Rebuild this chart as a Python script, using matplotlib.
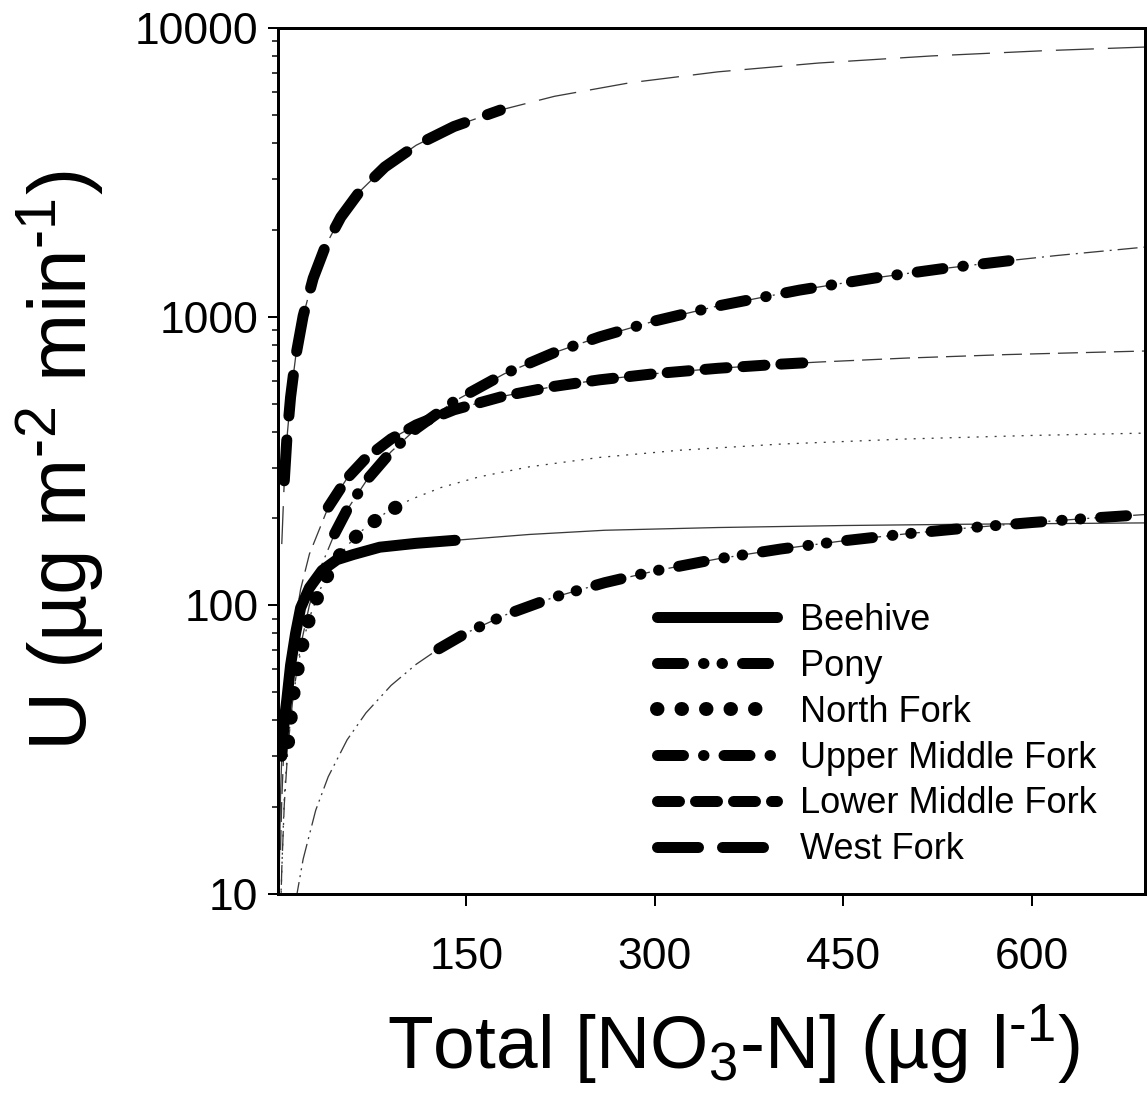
import matplotlib
matplotlib.use("Agg")
import matplotlib.pyplot as plt
from matplotlib.lines import Line2D
import numpy as np

plt.rcParams['font.family'] = ['Liberation Sans', 'DejaVu Sans']
plt.rcParams['mathtext.fontset'] = 'custom'
plt.rcParams['mathtext.rm'] = 'Liberation Sans'
plt.rcParams['mathtext.it'] = 'Liberation Sans'
plt.rcParams['lines.scale_dashes'] = False

# ---- data (C in ug/l, U in ug m-2 min-1) ----
names = ["Beehive", "Pony", "North Fork", "Upper Middle Fork", "Lower Middle Fork", "West Fork"]

beehive_C = [1, 2, 3, 5, 7, 10, 14, 18, 25, 35, 47, 60, 81, 110, 141, 200, 260, 350, 450, 550, 690]
beehive_U = [12, 22, 30, 40, 47, 62, 80, 98, 115, 132, 144, 150, 159, 164, 168, 176, 182, 186, 189, 191, 193]
beehive_obs = [3, 141]

pony_C = [14, 20, 30, 40, 55, 70, 90, 110, 128, 150, 180, 220, 260, 300, 350, 400, 450, 500, 550, 600, 650, 690]
pony_U = [9.4, 13.2, 19.5, 25.5, 34.2, 42.4, 52.8, 62.5, 70.7, 80.3, 92.3, 106.8, 119.8, 131.6, 144.9,
          156.7, 167.3, 176.9, 185.6, 193.6, 200.9, 206.3]
pony_obs = [128, 690]

nf_C = [2, 5, 8, 12, 18, 25, 35, 45, 55, 67, 85, 105, 130, 160, 200, 256, 320, 400, 500, 600, 690]
nf_U = [8.9, 21.6, 33.6, 48.6, 69.2, 90.7, 117.5, 140.7, 160.8, 181.8, 208.1, 232.0, 256.1, 278.6,
        301.9, 325.4, 344.7, 361.9, 376.9, 387.7, 395.0]
nf_obs = [8, 105]

umf_C = [2, 3, 5, 8, 12, 18, 25, 35, 45, 55, 71, 90, 110, 140, 180, 220, 256, 300, 350, 415, 480, 530, 588, 620, 690]
umf_U = [8.2, 12.2, 20.4, 32.5, 48.5, 72.4, 100.1, 138.8, 176.8, 214.3, 272.9, 340.5, 409.4, 508.5,
         633.6, 751.2, 851.2, 966.4, 1089, 1236, 1372, 1469, 1574, 1629, 1742]
umf_obs = [45, 588]

lmf_C = [2, 3, 5, 8, 12, 18, 25, 40, 55, 70, 90, 110, 140, 180, 220, 256, 300, 350, 400, 430, 500, 580, 690]
lmf_U = [14.2, 21.2, 34.8, 54.4, 79.1, 113.7, 150.5, 218.8, 275.6, 323.7, 377.2, 421.7, 475.7, 531.1,
         573.6, 604.3, 634.7, 662.4, 684.7, 696.2, 718.7, 739.0, 760.4]
lmf_obs = [40, 430]

wf_C = [3, 5, 7, 10, 14, 20, 28, 38, 50, 65, 85, 110, 140, 177, 220, 280, 350, 430, 520, 610, 690]
wf_U = [163, 270, 374, 526, 723, 1005, 1358, 1766, 2212, 2713, 3299, 3926, 4557, 5197, 5799, 6460,
        7048, 7561, 8002, 8345, 8591]
wf_obs = [5, 177]

x_ticks = [150, 300, 450, 600]
y_ticks = [10, 100, 1000, 10000]

# ---- styles (px -> pt at dpi 100) ----
PX = 0.72
thick_lw = 11 * PX
thin_lw = 1.3 * PX
thin_col = "#3a3a3a"

def pts(seq):
    return (0, tuple(v * PX for v in seq))

thick_styles = [
    dict(ls="-", lw=thick_lw),
    dict(ls=pts([26, 20, 0.5, 18, 0.5, 20]), lw=thick_lw),
    dict(ls=pts([0.5, 24]), lw=14 * PX),
    dict(ls=pts([26, 20, 0.5, 20]), lw=thick_lw),
    dict(ls=pts([22, 16]), lw=thick_lw),
    dict(ls=pts([41, 24]), lw=thick_lw),
]
thin_styles = [
    "-",
    pts([20, 5, 2, 5, 2, 5]),
    pts([2, 7]),
    pts([20, 6, 2, 6]),
    pts([20, 8]),
    pts([38, 14]),
]

series = [
    (beehive_C, beehive_U, beehive_obs),
    (pony_C, pony_U, pony_obs),
    (nf_C, nf_U, nf_obs),
    (umf_C, umf_U, umf_obs),
    (lmf_C, lmf_U, lmf_obs),
    (wf_C, wf_U, wf_obs),
]

W, H = 1148, 1097
fig = plt.figure(figsize=(W / 100, H / 100), dpi=100)
ax = fig.add_axes([278 / W, 1 - 894 / H, (1145 - 278) / W, (894 - 28) / H])

# thin model curves
for (C, U, obs), tls in zip(series, thin_styles):
    ax.plot(C, U, color=thin_col, lw=thin_lw, ls=tls, solid_capstyle="butt", dash_capstyle="butt", zorder=2)

# thick observed ranges
handles = []
for (C, U, obs), st, nm in zip(series, thick_styles, names):
    C = np.asarray(C, float)
    U = np.asarray(U, float)
    m = (C >= obs[0]) & (C <= obs[1])
    ax.plot(C[m], U[m], color="black", lw=st["lw"], ls=st["ls"],
            solid_capstyle="round", dash_capstyle="round", zorder=3)
    handles.append(Line2D([], [], color="black", lw=st["lw"], ls=st["ls"],
                          solid_capstyle="round", dash_capstyle="round"))

ax.set_yscale("log")
ax.set_xlim(0, 690)
ax.set_ylim(10, 10000)
ax.set_xticks(x_ticks)
ax.set_xticklabels([str(v) for v in x_ticks])
ax.set_yticks(y_ticks)
ax.set_yticklabels([str(v) for v in y_ticks])
ax.tick_params(axis="x", which="major", direction="out", length=12 * PX, width=2 * PX,
               labelsize=32, pad=22)
ax.tick_params(axis="y", which="major", direction="out", length=10 * PX, width=2 * PX,
               labelsize=32, pad=7)
ax.tick_params(axis="y", which="minor", direction="out", length=6 * PX, width=1.5 * PX)
ax.tick_params(axis="x", which="minor", bottom=False)
for sp in ax.spines.values():
    sp.set_linewidth(3 * PX)

ax.set_xlabel(r"Total [NO$_3$-N] (µg l$^{\text{-}1}$)", fontsize=54, labelpad=18)
ax.xaxis.label.set_x(0.525)
ax.set_ylabel(r"U (µg m$^{\text{-}2}$ min$^{\text{-}1}$)", fontsize=59, labelpad=20)

leg = ax.legend(handles, names, loc="upper left",
                bbox_to_anchor=((657 - 278) / 867, (894 - 603) / 866),
                frameon=False, fontsize=26, handlelength=120 / 36, handletextpad=0.62,
                labelspacing=0.3, borderpad=0, borderaxespad=0)

fig.savefig("out.png", dpi=100)
